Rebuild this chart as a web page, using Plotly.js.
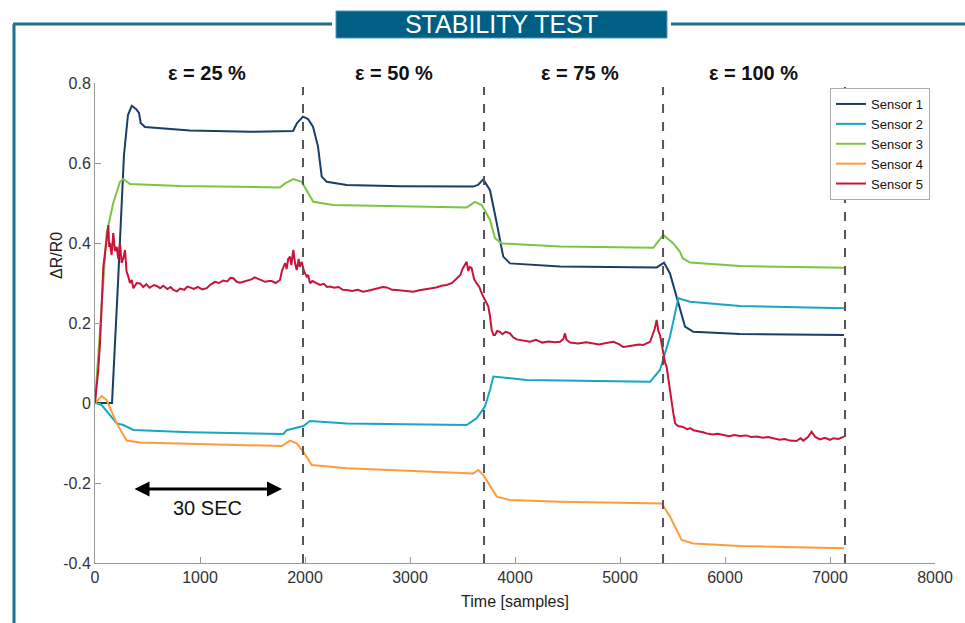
<!DOCTYPE html>
<html>
<head>
<meta charset="utf-8">
<script src="https://cdn.plot.ly/plotly-3.0.1.min.js"></script>
<style>
html,body{margin:0;padding:0;background:#fff;}
#chart{width:965px;height:623px;}
</style>
</head>
<body>
<div id="chart"></div>
<script>
// ---------- DATA ----------
const seriesNames = ['Sensor 1', 'Sensor 2', 'Sensor 3', 'Sensor 4', 'Sensor 5'];

const s1x = [0,162,219,276,314,350,390,419,435,476,905,1476,1886,1924,1981,2029,2076,2124,2159,2207,2397,2905,3600,3648,3698,3762,3826,3888,3952,4429,5350,5419,5476,5540,5619,5698,6143,7133];
const s1y = [0,0,0.3,0.62,0.72,0.743,0.735,0.725,0.70,0.69,0.681,0.678,0.68,0.70,0.716,0.71,0.691,0.641,0.566,0.553,0.545,0.542,0.541,0.545,0.559,0.532,0.45,0.366,0.349,0.341,0.339,0.351,0.324,0.266,0.191,0.178,0.1725,0.17];

const s2x = [0,64,207,270,365,905,1793,1826,1984,2048,2397,3540,3635,3714,3762,3793,4111,5286,5381,5476,5555,5667,6143,7133];
const s2y = [0,-0.005,-0.051,-0.055,-0.0675,-0.073,-0.0775,-0.068,-0.0575,-0.045,-0.051,-0.055,-0.038,-0.009,0.0325,0.066,0.0575,0.053,0.0825,0.166,0.262,0.253,0.2425,0.237];

const s3x = [0,48,111,174,238,270,333,810,1762,1810,1889,1968,2031,2079,2270,2714,3540,3619,3683,3762,3810,3873,4429,5317,5412,5508,5571,5597,5667,6143,7133];
const s3y = [0,0.175,0.425,0.5,0.553,0.56,0.5475,0.5425,0.539,0.549,0.56,0.553,0.524,0.503,0.495,0.4925,0.489,0.503,0.495,0.4575,0.412,0.399,0.391,0.388,0.42,0.399,0.378,0.362,0.351,0.3425,0.338];

const s4x = [0,64,111,207,270,302,429,1222,1778,1857,1921,1984,2064,2397,3603,3650,3698,3826,3952,4429,5397,5476,5587,5698,6143,7133];
const s4y = [0,0.0175,0.0075,-0.051,-0.08,-0.094,-0.099,-0.105,-0.1075,-0.094,-0.101,-0.122,-0.155,-0.163,-0.176,-0.1675,-0.18,-0.234,-0.2425,-0.247,-0.251,-0.284,-0.3425,-0.351,-0.3575,-0.363];

const s5x = [0,30,48,65,79,95,110,127,135,143,158,174,190,207,222,238,254,270,286,300,317,333,350,365,397,429,460,490,520,560,588,620,650,690,720,746,780,810,850,880,905,940,980,1020,1064,1100,1143,1180,1220,1260,1290,1317,1350,1380,1412,1450,1490,1520,1540,1580,1620,1660,1683,1720,1762,1780,1793,1810,1825,1840,1857,1870,1889,1905,1921,1940,1950,1968,1990,2016,2030,2048,2070,2100,2143,2180,2210,2238,2280,2320,2360,2397,2450,2500,2555,2620,2700,2740,2778,2830,2873,2950,3000,3031,3090,3140,3190,3250,3300,3350,3400,3444,3480,3500,3524,3540,3555,3570,3587,3610,3635,3660,3683,3700,3714,3730,3746,3760,3778,3795,3810,3830,3857,3880,3910,3952,3980,4016,4060,4100,4143,4200,4260,4320,4380,4429,4460,4476,4490,4524,4600,4680,4746,4800,4870,4936,4990,5030,5063,5120,5180,5222,5260,5286,5310,5330,5349,5365,5381,5395,5412,5430,5444,5460,5476,5490,5508,5525,5540,5560,5600,5640,5667,5700,5750,5790,5825,5880,5930,5984,6040,6090,6143,6200,6250,6302,6360,6410,6460,6520,6570,6619,6680,6720,6746,6790,6825,6860,6905,6950,7000,7032,7080,7133];
const s5y = [0,0.08,0.15,0.28,0.34,0.375,0.41,0.445,0.39,0.40,0.37,0.425,0.38,0.39,0.36,0.40,0.35,0.3625,0.3825,0.33,0.316,0.30,0.3075,0.287,0.30,0.299,0.29,0.297,0.288,0.295,0.2925,0.287,0.293,0.285,0.29,0.2825,0.279,0.286,0.283,0.291,0.289,0.285,0.29,0.284,0.287,0.296,0.303,0.300,0.306,0.304,0.313,0.312,0.303,0.301,0.303,0.306,0.309,0.314,0.312,0.306,0.303,0.305,0.305,0.30,0.3075,0.33,0.341,0.35,0.335,0.36,0.366,0.345,0.3825,0.35,0.3325,0.36,0.34,0.353,0.33,0.316,0.32,0.299,0.305,0.30,0.295,0.298,0.29,0.291,0.288,0.29,0.283,0.2825,0.28,0.283,0.278,0.282,0.287,0.29,0.289,0.283,0.2825,0.28,0.28,0.278,0.282,0.284,0.287,0.289,0.293,0.295,0.30,0.312,0.32,0.335,0.345,0.353,0.33,0.34,0.337,0.31,0.299,0.29,0.274,0.265,0.2575,0.25,0.241,0.22,0.1825,0.17,0.17,0.18,0.178,0.172,0.178,0.174,0.165,0.159,0.157,0.154,0.153,0.158,0.151,0.154,0.152,0.153,0.16,0.174,0.158,0.151,0.149,0.152,0.149,0.146,0.15,0.153,0.147,0.14,0.141,0.143,0.146,0.145,0.15,0.153,0.17,0.185,0.2075,0.18,0.17,0.15,0.124,0.10,0.091,0.06,0.0325,0.0,-0.026,-0.05,-0.055,-0.058,-0.06,-0.066,-0.063,-0.068,-0.07,-0.073,-0.076,-0.079,-0.077,-0.08,-0.083,-0.08,-0.0825,-0.081,-0.085,-0.084,-0.087,-0.085,-0.088,-0.092,-0.09,-0.094,-0.095,-0.088,-0.094,-0.085,-0.072,-0.085,-0.091,-0.087,-0.092,-0.088,-0.09,-0.084];

const stageBoundaries = [1981, 3705, 5410, 7143];
const stageLabels = ['ε = 25 %', 'ε = 50 %', 'ε = 75 %', 'ε = 100 %'];
const xTicks = [0,1000,2000,3000,4000,5000,6000,7000,8000];
const yTicks = [-0.4,-0.2,0,0.2,0.4,0.6,0.8];
const yTickText = ['-0.4','-0.2','0','0.2','0.4','0.6','0.8'];
const durationLabel = '30 SEC';
const yAxisTitle = 'ΔR/R0';

// ---------- STYLE / LAYOUT ----------
const colors = ['#1b3d66', '#19a6c4', '#7cc443', '#ff9c3a', '#c8143b'];
const W = 965, H = 623, ML = 95, MR = 30, MT = 83, MB = 60;
const PW = W - ML - MR, PH = H - MT - MB;
const px = v => (v - ML) / PW;           // page pixel -> paper x
const py = v => (H - MB - v) / PH;       // page pixel -> paper y

const xs = [s1x, s2x, s3x, s4x, s5x];
const ys = [s1y, s2y, s3y, s4y, s5y];
const traces = seriesNames.map((n, i) => ({
  type: 'scatter', mode: 'lines', name: n,
  x: xs[i], y: ys[i],
  line: {color: colors[i], width: 2}
}));

const frameColor = '#1e6f90';
const shapes = [];
stageBoundaries.forEach(b => shapes.push({
  type: 'line', xref: 'x', yref: 'y', x0: b, x1: b, y0: -0.4, y1: 0.79,
  line: {color: '#555', width: 2, dash: 'dash'}
}));
// decorative frame
shapes.push({type:'line', xref:'paper', yref:'paper', x0:px(14), x1:px(14), y0:py(24), y1:py(640), line:{color:frameColor, width:3}});
shapes.push({type:'line', xref:'paper', yref:'paper', x0:px(13), x1:px(332), y0:py(24), y1:py(24), line:{color:frameColor, width:3}});
shapes.push({type:'line', xref:'paper', yref:'paper', x0:px(671), x1:px(970), y0:py(24), y1:py(24), line:{color:frameColor, width:3}});
shapes.push({type:'rect', xref:'paper', yref:'paper', x0:px(336), x1:px(667), y0:py(38), y1:py(11), fillcolor:'#005f85', line:{color:'#4a9ab8', width:1}});

const stageLabelX = [1070, 2850, 4620, 6276];
const annotations = stageLabels.map((t, i) => ({
  xref: 'x', yref: 'paper', x: stageLabelX[i], y: py(73), yanchor: 'middle',
  text: '<b>' + t + '</b>', showarrow: false,
  font: {family: 'Liberation Sans, Arial, sans-serif', size: 20, color: '#111'}
}));
annotations.push({
  xref: 'x', yref: 'y', axref: 'x', ayref: 'y',
  x: 1781, y: -0.215, ax: 362, ay: -0.215, text: '',
  showarrow: true, arrowside: 'end+start', arrowhead: 2, arrowsize: 1, arrowwidth: 3, arrowcolor: '#000', standoff: 0, startstandoff: 0
});
annotations.push({
  xref: 'x', yref: 'y', x: 1076, y: -0.263, text: durationLabel, showarrow: false,
  font: {family: 'Liberation Sans, Arial, sans-serif', size: 20, color: '#111'}
});
// y-axis title placed as rotated text
annotations.push({
  xref: 'paper', yref: 'paper', x: px(56), y: py(256), xanchor: 'center', yanchor: 'middle',
  text: yAxisTitle, textangle: -90, showarrow: false,
  font: {family: 'Liberation Sans, Arial, sans-serif', size: 16, color: '#222'}
});

const layout = {
  width: W, height: H,
  margin: {l: ML, r: MR, t: MT, b: MB},
  paper_bgcolor: '#fff', plot_bgcolor: '#fff',
  font: {family: 'Liberation Sans, Arial, sans-serif', size: 16, color: '#333'},
  title: {
    text: 'STABILITY TEST', xref: 'paper', x: px(501.5), xanchor: 'center',
    yref: 'container', y: 1 - 24.5 / H, yanchor: 'middle',
    font: {family: 'Liberation Sans Narrow, Arial Narrow, sans-serif', size: 25, color: '#fff'}
  },
  xaxis: {
    range: [0, 8000], tickvals: xTicks, ticks: 'inside', ticklen: 6, tickcolor: '#999',
    showline: true, linecolor: '#999', linewidth: 1, showgrid: false, zeroline: false,
    tickfont: {size: 16, color: '#333'},
    title: {text: 'Time [samples]', font: {size: 16, color: '#222'}, standoff: 10}
  },
  yaxis: {
    range: [-0.4, 0.8], tickvals: yTicks, ticktext: yTickText, ticks: 'inside', ticklen: 6, tickcolor: '#999',
    showline: true, linecolor: '#999', linewidth: 1, showgrid: false, zeroline: false,
    tickfont: {size: 16, color: '#333'}
  },
  legend: {
    x: px(830), y: py(88), xanchor: 'left', yanchor: 'top',
    bgcolor: '#fff', bordercolor: '#aaa', borderwidth: 1,
    font: {size: 13, color: '#111'}, tracegroupgap: 0, itemwidth: 30
  },
  showlegend: true,
  shapes: shapes,
  annotations: annotations
};

Plotly.newPlot('chart', traces, layout, {displayModeBar: false, staticPlot: true});
</script>
</body>
</html>
